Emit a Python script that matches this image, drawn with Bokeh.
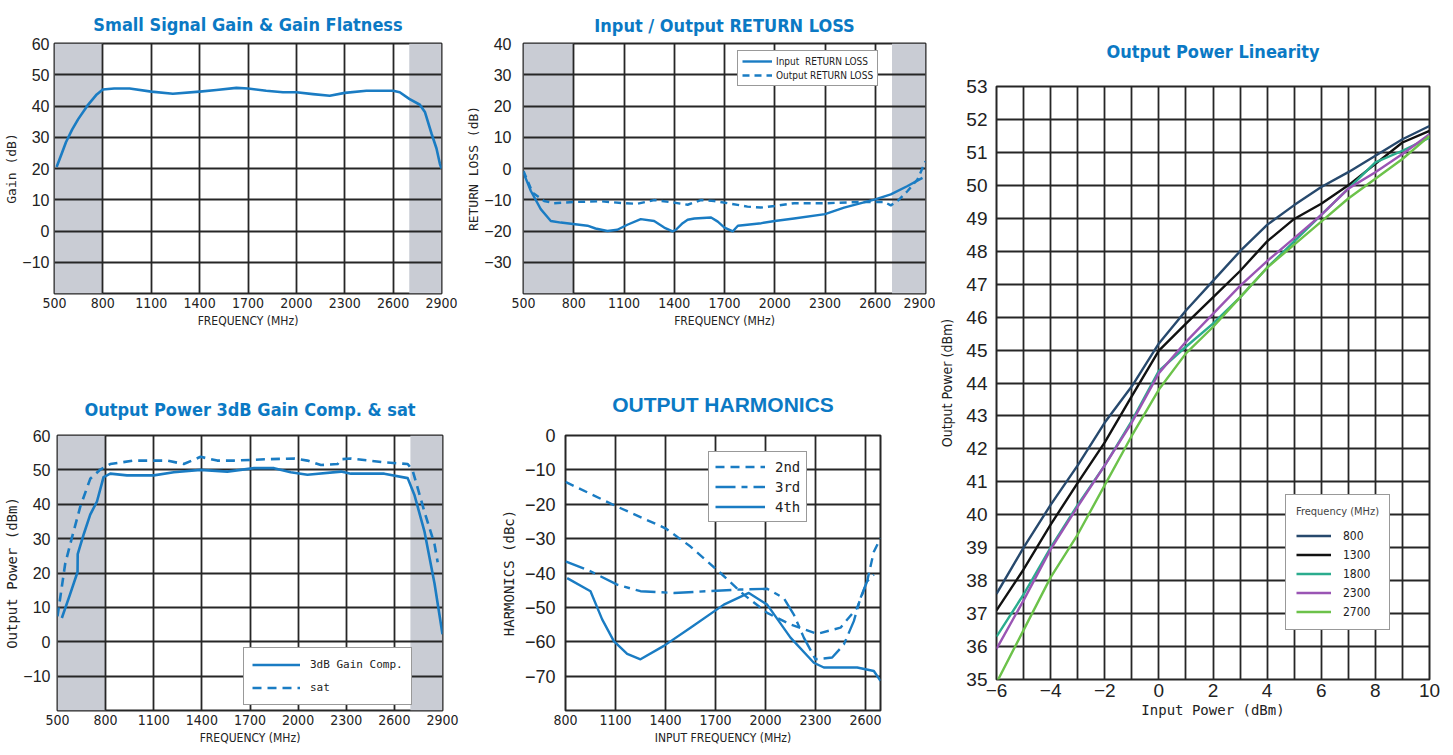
from bokeh.plotting import figure
from bokeh.layouts import row, column
from bokeh.models import FixedTicker, Range1d, BoxAnnotation
from bokeh.embed import file_html
from bokeh.resources import INLINE

# ---------------- data ----------------
# Small Signal Gain
gain_freq = [513, 545, 571, 610, 647, 704, 762, 800, 870, 966, 1100, 1234, 1400, 1504, 1628, 1700,
             1813, 1917, 2000, 2103, 2207, 2300, 2434, 2600, 2641, 2700, 2766, 2797, 2838, 2869, 2890, 2900]
gain_db = [20.5, 24.8, 28.4, 32.5, 35.8, 40.1, 43.7, 45.3, 45.6, 45.6, 44.6, 43.9, 44.6, 45.1, 45.8, 45.6,
           44.9, 44.4, 44.4, 43.8, 43.3, 44.2, 44.9, 44.9, 44.4, 42.3, 40.4, 38.1, 31.2, 26.4, 21.5, 20.0]

# Return loss
rl_in_freq = [500, 544, 603, 663, 723, 882, 930, 1001, 1060, 1120, 1200, 1280, 1340, 1390, 1410, 1450, 1480,
              1520, 1620, 1660, 1700, 1750, 1780, 1920, 2000, 2115, 2300, 2414, 2600, 2693, 2793, 2882]
rl_in_db = [-1.4, -7.2, -13.0, -16.8, -17.3, -18.3, -19.2, -20.0, -19.6, -18.0, -16.2, -16.8, -18.9, -20.1,
            -19.6, -17.5, -16.4, -16.0, -15.7, -17.0, -18.9, -20.1, -18.3, -17.5, -16.8, -16.0, -14.6,
            -12.5, -9.9, -8.3, -5.6, -3.0]
rl_out_freq = [500, 554, 623, 683, 802, 961, 1101, 1180, 1280, 1400, 1480, 1559, 1638, 1718, 1837, 1917,
               2000, 2116, 2315, 2514, 2653, 2693, 2733, 2793, 2852, 2900]
rl_out_db = [-0.8, -7.7, -10.4, -11.1, -10.7, -10.5, -11.1, -11.3, -10.1, -10.9, -11.6, -10.1, -10.4, -11.1,
             -12.2, -12.5, -12.0, -11.1, -11.1, -10.7, -10.7, -11.8, -10.4, -7.2, -3.5, 2.3]

# Output power 3dB comp & sat
comp_freq = [527, 576, 625, 626, 665, 704, 746, 787, 829, 933, 1100, 1225, 1392, 1558, 1725, 1850, 1954,
             2058, 2267, 2329, 2537, 2683, 2725, 2787, 2850, 2900]
comp_dbm = [6.9, 13.5, 20.3, 25.5, 31.5, 37.0, 40.8, 47.9, 48.9, 48.4, 48.4, 49.3, 50.0, 49.5, 50.5, 50.5,
            49.3, 48.6, 49.5, 48.9, 48.9, 47.6, 42.7, 32.2, 17.0, 2.2]
sat_freq = [500, 548, 590, 642, 704, 767, 829, 975, 1183, 1287, 1392, 1496, 1600, 1808, 1975, 2058, 2142,
            2246, 2267, 2329, 2537, 2683, 2714, 2787, 2850, 2870]
sat_dbm = [7.4, 22.7, 30.3, 39.3, 47.4, 50.1, 51.7, 52.7, 52.7, 51.7, 53.8, 52.7, 52.7, 53.1, 53.3, 52.7,
           51.4, 51.7, 53.1, 53.3, 52.2, 51.7, 49.8, 37.9, 28.4, 23.1]

# Harmonics
h2_freq = [800, 1110, 1400, 1550, 1730, 1870, 2010, 2150, 2310, 2450, 2550, 2610, 2650, 2690]
h2_dbc = [-13.5, -20.7, -27.0, -32.3, -40.0, -46.3, -51.6, -55.0, -57.7, -55.9, -50.1, -42.4, -33.8, -29.9]
h3_freq = [800, 950, 1110, 1250, 1450, 1650, 1850, 2010, 2110, 2170, 2230, 2300, 2400, 2470, 2530, 2570,
           2610, 2650]
h3_dbc = [-36.6, -39.5, -43.4, -45.3, -45.8, -45.3, -44.8, -44.6, -47.3, -52.1, -58.8, -65.1, -64.6, -60.8,
          -54.0, -47.3, -42.4, -40.5]
h4_freq = [810, 950, 1020, 1090, 1170, 1250, 1390, 1550, 1750, 1900, 2010, 2150, 2290, 2350, 2550, 2650, 2690]
h4_dbc = [-41.5, -45.3, -53.5, -59.8, -63.5, -65.1, -61.2, -55.9, -49.2, -45.8, -49.2, -58.8, -66.1, -67.5,
          -67.5, -68.5, -71.4]

# Linearity
lin_in = [-6, -5, -4, -3, -2, -1, 0, 1, 2, 3, 4, 5, 6, 7, 8, 9, 10]
lin_800 = [37.6, 39.0, 40.3, 41.5, 42.8, 43.9, 45.2, 46.2, 47.1, 48.0, 48.8, 49.4, 49.95, 50.4, 50.9, 51.4, 51.8]
lin_1300 = [37.1, 38.34, 39.7, 40.97, 42.2, 43.6, 44.98, 45.8, 46.6, 47.4, 48.3, 48.98, 49.44, 50.0, 50.65,
            51.3, 51.65]
lin_1800 = [36.3, 37.58, 39.0, 40.3, 41.5, 42.85, 44.37, 45.1, 45.8, 46.6, 47.5, 48.3, 49.1, 49.9, 50.7, 51.05,
            51.45]
lin_2300 = [35.93, 37.4, 38.95, 40.25, 41.5, 42.8, 44.3, 45.25, 46.1, 46.95, 47.7, 48.4, 49.1, 49.9, 50.4,
            50.95, 51.55]
lin_2700 = [34.9, 36.5, 38.1, 39.4, 40.9, 42.4, 43.8, 44.9, 45.7, 46.6, 47.5, 48.2, 48.9, 49.6, 50.2, 50.8, 51.5]
lin_freqs = ["800", "1300", "1800", "2300", "2700"]
lin_colors = ["#27496d", "#111111", "#2bac8e", "#9a55b4", "#6cc24a"]

freq_ticks = [500, 800, 1100, 1400, 1700, 2000, 2300, 2600, 2900]
harm_ticks = [800, 1100, 1400, 1700, 2000, 2300, 2600]
shade_left = [500, 2700]
shade_right = [800, 2900]

# ---------------- style ----------------
LINE = "#1a7cc3"
TBLUE = "#0b79c4"
SHADE = "#c9ccd4"
GRID = "#262626"
COND = "DejaVu Sans Condensed, Roboto, sans-serif"
MONO = "DejaVu Sans Mono"
SANS = "Liberation Sans"
MINUS = "\u2212"


def base(w, h, xr, yr, bl, br, bt, bb, title, tstand, xticks, yticks, xlab, ylab, xgrid=None,
         tfont=COND, tsize="18px", ylab_font=MONO, ylab_size="13px", ytick_size="16px",
         xtick_size="14px", xtick_font=COND, ytick_standoff=5, ylab_standoff=0):
    p = figure(width=w, height=h, x_range=Range1d(*xr), y_range=Range1d(*yr), title=title,
               output_backend="svg", toolbar_location=None,
               min_border_left=bl, min_border_right=br, min_border_top=bt, min_border_bottom=bb)
    p.title.text_font = tfont
    p.title.text_font_size = tsize
    p.title.text_font_style = "bold"
    p.title.text_color = TBLUE
    p.title.align = "center"
    p.title.vertical_align = "bottom"
    p.title.standoff = tstand
    p.xaxis.ticker = FixedTicker(ticks=xticks)
    p.yaxis.ticker = FixedTicker(ticks=yticks)
    p.xgrid.ticker = FixedTicker(ticks=xgrid if xgrid is not None else xticks)
    p.ygrid.ticker = FixedTicker(ticks=yticks)
    p.xaxis.major_label_overrides = {t: (MINUS + str(-t) if t < 0 else str(t)) for t in xticks}
    p.yaxis.major_label_overrides = {t: (MINUS + str(-t) if t < 0 else str(t)) for t in yticks}
    p.grid.grid_line_color = GRID
    p.grid.grid_line_width = 1.8
    p.outline_line_color = GRID
    p.outline_line_width = 2.0
    p.axis.axis_line_color = None
    p.axis.major_tick_line_color = None
    p.axis.minor_tick_line_color = None
    p.axis.major_tick_out = 0
    p.axis.major_tick_in = 0
    p.axis.minor_tick_out = 0
    p.axis.minor_tick_in = 0
    p.xaxis.axis_label = xlab
    p.yaxis.axis_label = ylab
    p.xaxis.axis_label_text_font = COND
    p.xaxis.axis_label_text_font_size = "12px"
    p.xaxis.axis_label_text_font_style = "normal"
    p.xaxis.axis_label_text_color = "#222222"
    p.xaxis.axis_label_standoff = 3
    p.yaxis.axis_label_text_font = ylab_font
    p.yaxis.axis_label_text_font_size = ylab_size
    p.yaxis.axis_label_text_font_style = "normal"
    p.yaxis.axis_label_text_color = "#222222"
    p.yaxis.axis_label_standoff = ylab_standoff
    p.xaxis.major_label_text_font = xtick_font
    p.xaxis.major_label_text_font_size = xtick_size
    p.xaxis.major_label_text_color = "#222222"
    p.xaxis.major_label_standoff = 4
    p.yaxis.major_label_text_font = SANS
    p.yaxis.major_label_text_font_size = ytick_size
    p.yaxis.major_label_text_color = "#222222"
    p.yaxis.major_label_standoff = ytick_standoff
    p.background_fill_color = "white"
    p.border_fill_color = "white"
    return p


def shade(p):
    for l, r in zip(shade_left, shade_right):
        p.add_layout(BoxAnnotation(left=l, right=r, fill_color=SHADE, fill_alpha=1.0,
                                   line_color=None, level="image"))


def style_legend(p, loc, font, size, glyph_w, row_h, spacing, padding, standoff):
    lg = p.legend[0]
    lg.location = loc
    lg.label_text_font = font
    lg.label_text_font_size = size
    lg.label_text_color = "#222222"
    lg.glyph_width = glyph_w
    lg.glyph_height = row_h
    lg.label_height = row_h
    lg.spacing = spacing
    lg.padding = padding
    lg.margin = 0
    lg.label_standoff = standoff
    lg.border_line_color = "#333333"
    lg.border_line_width = 1.5
    lg.background_fill_alpha = 1.0


# ---------- Panel 1 ----------
p1 = base(463, 370, (500, 2900), (-20, 60), 54, 22, 42, 77, "Small Signal Gain & Gain Flatness", 18,
          freq_ticks, [-10, 0, 10, 20, 30, 40, 50, 60], "FREQUENCY (MHz)", "Gain (dB)")
shade(p1)
p1.line(gain_freq, gain_db, line_color=LINE, line_width=2.6, line_join="round")

# ---------- Panel 2 ----------
p2 = base(472, 370, (500, 2900), (-40, 40), 60, 10, 43, 75, "Input / Output RETURN LOSS", 16,
          freq_ticks, [-30, -20, -10, 0, 10, 20, 30, 40], "FREQUENCY (MHz)", "RETURN LOSS (dB)",
          ytick_standoff=12)
shade(p2)
p2.line(rl_in_freq, rl_in_db, line_color=LINE, line_width=2.4, line_join="round",
        legend_label="Input  RETURN LOSS")
p2.line(rl_out_freq, rl_out_db, line_color=LINE, line_width=2.4, line_dash="7 5",
        legend_label="Output RETURN LOSS")
style_legend(p2, (214, 207), COND, "10px", 30, 12, 2, 4, 4)

# ---------- Panel 3 ----------
p3 = base(488, 385, (500, 2900), (-20, 60), 57, 46, 63, 45, "Output Power 3dB Gain Comp. & sat", 32,
          freq_ticks, [-10, 0, 10, 20, 30, 40, 50, 60], "FREQUENCY (MHz)", "Output Power (dBm)",
          ylab_size="14px", ytick_standoff=7)
shade(p3)
p3.line(comp_freq, comp_dbm, line_color=LINE, line_width=2.6, line_join="round",
        legend_label="3dB Gain Comp.")
p3.line(sat_freq, sat_dbm, line_color=LINE, line_width=2.6, line_dash="9 6", line_join="round",
        legend_label="sat")
style_legend(p3, (186, 5), MONO, "11px", 48, 17, 6, 8, 10)

# ---------- Panel 4 ----------
p4 = base(447, 385, (800, 2690), (-80, 0), 77, 55, 63, 45, "OUTPUT HARMONICS", 40,
          harm_ticks, [-70, -60, -50, -40, -30, -20, -10, 0], "INPUT FREQUENCY (MHz)", "HARMONICS (dBc)",
          tfont=SANS, tsize="21px", ylab_size="14px", ytick_size="18px", ytick_standoff=10, ylab_standoff=5)
p4.line(h2_freq, h2_dbc, line_color=LINE, line_width=2.4, line_dash="9 6", line_join="round",
        legend_label="2nd")
p4.line(h3_freq, h3_dbc, line_color=LINE, line_width=2.4, line_dash="20 6 6 6", line_join="round",
        legend_label="3rd")
p4.line(h4_freq, h4_dbc, line_color=LINE, line_width=2.4, line_join="round", legend_label="4th")
style_legend(p4, (143, 188), MONO, "14px", 50, 17, 3, 6, 10)

# ---------- Panel 5 ----------
p5 = base(518, 755, (-6, 10), (35, 53), 61, 24, 86, 76, "Output Power Linearity", 50,
          [-6, -4, -2, 0, 2, 4, 6, 8, 10], list(range(35, 54)), "Input Power (dBm)", "Output Power (dBm)",
          xgrid=list(range(-6, 11)), ylab_font=COND, ylab_size="14px",
          ytick_size="19px", xtick_size="19px", xtick_font=SANS, ytick_standoff=9, ylab_standoff=8)
p5.xaxis.axis_label_text_font = MONO
p5.xaxis.axis_label_text_font_size = "14px"
p5.xaxis.axis_label_standoff = 2
for vals, lab, col in zip([lin_800, lin_1300, lin_1800, lin_2300, lin_2700], lin_freqs, lin_colors):
    p5.line(lin_in, vals, line_color=col, line_width=2.4, line_join="round", legend_label=lab)
style_legend(p5, (289, 49), COND, "12px", 35, 15, 4, 10, 12)
p5.legend[0].title = "Frequency (MHz)"
p5.legend[0].title_text_font = COND
p5.legend[0].title_text_font_size = "11px"
p5.legend[0].title_text_font_style = "normal"
p5.legend[0].title_standoff = 10

layout = row(column(row(p1, p2), row(p3, p4)), p5)
open("out.html", "w").write(file_html(layout, INLINE))
